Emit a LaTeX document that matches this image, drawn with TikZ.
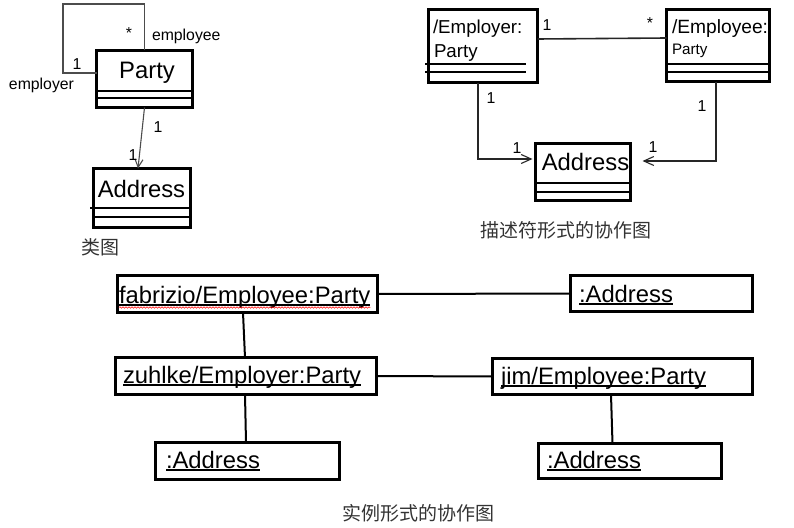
\documentclass[tikz,border=0pt]{standalone}
\usepackage{fontspec}
\setmainfont{Liberation Sans}
\newfontfamily\cjk{Noto Sans CJK SC}
\usetikzlibrary{arrows.meta,decorations.pathmorphing}
\begin{document}
\begin{tikzpicture}[x=1pt,y=-1pt,
  box/.style={draw, line width=3.4pt, inner sep=0pt, outer sep=0pt, anchor=north west},
  cline/.style={line width=1.3pt},
  txt/.style={inner sep=0pt, outer sep=0pt},
  big/.style={txt, font=\fontsize{23.8}{28}\selectfont},
  mid/.style={txt, font=\fontsize{18.7}{22}\selectfont},
  small/.style={txt, font=\fontsize{15.8}{18}\selectfont},
  captext/.style={txt, text=black!80, font=\cjk\fontsize{19}{22}\selectfont},
  thinline/.style={draw=black!70, line width=1.1pt},
  assoc/.style={draw=black!85, line width=1.6pt},
  inst/.style={draw=black, line width=2pt},
  openarrow/.style={-{Straight Barb[length=10pt,width=9pt,line width=1.1pt]}},
  ul/.style={line width=1.2pt}
]
\useasboundingbox (0,0) rectangle (794,527);

% ---------------- class diagram ----------------
\node[box, minimum width=96pt, minimum height=57pt] (party) at (96.5,50.5) {};
\draw[cline] (party.west |- 0,91) -- (party.east |- 0,91);
\draw[cline] (party.west |- 0,98) -- (party.east |- 0,98);
\node[big, anchor=base] (partyt) at (147,78) {Party};

\node[box, minimum width=97pt, minimum height=59pt] (addr1) at (93.5,168.5) {};
\draw[cline] (90,208) -- (addr1.east |- 0,208);
\draw[cline] (addr1.west |- 0,217) -- (addr1.east |- 0,217);
\node[big, anchor=base] (addr1t) at (141.5,197) {Address};

\coordinate (loopc) at (63,4);
\draw[thinline] (party.north) |- (loopc) |- ([yshift=6pt]party.west);
\node[small, anchor=center] (star1) at (129,33) {*};
\node[small, anchor=base west] (employee) at (152,41) {employee};
\node[small, anchor=base] (one1) at (77,70) {1};
\node[small, anchor=base west] (employer) at (9,89) {employer};

\draw[thinline, -{Straight Barb[length=8pt,width=8pt,line width=1.1pt]}] (party.south) -- ([xshift=-4pt]addr1.north);
\node[small, anchor=base] (one2) at (158,132) {1};
\node[small, anchor=base] (one3) at (133,160) {1};

\node[captext] (cap1) at (100,247) {类图};

% ---------------- descriptor collaboration ----------------
\node[box, minimum width=109pt, minimum height=73pt] (emplr) at (428.5,9.5) {};
\draw[cline] (425,64) -- (526,64);
\draw[cline] (425,72) -- (526,72);
\node[mid, anchor=base west] (emplrt1) at (433,34) {/Employer:};
\node[mid, anchor=base west] (emplrt2) at (434,57) {Party};

\node[box, minimum width=103pt, minimum height=72pt] (emple) at (666.5,9.5) {};
\draw[cline] (668,64) -- (emple.east |- 0,64);
\draw[cline] (668,72) -- (emple.east |- 0,72);
\node[txt, font=\fontsize{19.2}{22}\selectfont, anchor=base west] (emplet1) at (672,34) {/Employee:};
\node[txt, font=\fontsize{15.2}{18}\selectfont, anchor=base west] (emplet2) at (672,55) {Party};

\node[box, minimum width=95pt, minimum height=57pt] (addr2) at (535.5,143.5) {};
\draw[cline] (addr2.west |- 0,183) -- (addr2.east |- 0,183);
\draw[cline] (addr2.west |- 0,192) -- (addr2.east |- 0,192);
\node[big, anchor=base] (addr2t) at (585.5,170) {Address};

\draw[assoc] ([yshift=7pt]emplr.east) -- ([yshift=7.5pt]emple.west);
\node[small, anchor=base] (one4) at (547,31) {1};
\node[small, anchor=center] (star2) at (650,23) {*};

\draw[assoc, openarrow] ([xshift=-5pt]emplr.south) |- ([xshift=-3pt,yshift=13pt]addr2.west);
\node[small, anchor=base] (one5) at (491,103) {1};
\node[small, anchor=base] (one6) at (517,153) {1};

\draw[assoc, openarrow] ([xshift=-2pt]emple.south) |- ([xshift=12pt,yshift=11pt]addr2.east);
\node[small, anchor=base] (one7) at (702,111) {1};
\node[small, anchor=base] (one8) at (653,152) {1};

\node[captext] (cap2) at (566,230) {描述符形式的协作图};

% ---------------- instance collaboration ----------------
\node[box, minimum width=260pt, minimum height=37pt] (fab) at (117.5,275.5) {};
\node[big, anchor=base west] (fabt) at (119,303) {fabrizio/Employee:Party};
\draw[ul] ([yshift=-2pt]fabt.base west) -- ([yshift=-2pt]fabt.base east);
\draw[red, line width=0.5pt, decorate, decoration={snake, amplitude=0.8pt, segment length=3pt}]
  ([yshift=-4.5pt]fabt.base west) -- ([yshift=-4.5pt]fabt.base east);

\node[box, minimum width=182pt, minimum height=36pt] (addr3) at (570.5,275.5) {};
\node[big, anchor=base west] (addr3t) at (579,302) {:Address};
\draw[ul] ([yshift=-2pt]addr3t.base west) -- ([yshift=-2pt]addr3t.base east);

\node[box, minimum width=261pt, minimum height=37pt] (zuh) at (115.5,357.5) {};
\node[big, anchor=base west] (zuht) at (123,383) {zuhlke/Employer:Party};
\draw[ul] ([yshift=-2pt]zuht.base west) -- ([yshift=-2pt]zuht.base east);

\node[box, minimum width=260pt, minimum height=36pt] (jim) at (492.5,358.5) {};
\node[big, anchor=base west] (jimt) at (501,384) {jim/Employee:Party};
\draw[ul] ([yshift=-2pt]jimt.base west) -- ([yshift=-2pt]jimt.base east);

\node[box, minimum width=184pt, minimum height=37pt] (addr4) at (155.5,442.5) {};
\node[big, anchor=base west] (addr4t) at (166,468) {:Address};
\draw[ul] ([yshift=-2pt]addr4t.base west) -- ([yshift=-2pt]addr4t.base east);

\node[box, minimum width=183pt, minimum height=35pt] (addr5) at (538.5,443.5) {};
\node[big, anchor=base west] (addr5t) at (547,468) {:Address};
\draw[ul] ([yshift=-2pt]addr5t.base west) -- ([yshift=-2pt]addr5t.base east);

\draw[inst] ([xshift=-4.5pt]fab.south) -- ([xshift=-1pt]zuh.north);
\draw[inst] (fab.east) -- (addr3.west);
\draw[inst] (zuh.east) -- (jim.west);
\draw[inst] ([xshift=-1pt]zuh.south) -- ([xshift=-1.5pt]addr4.north);
\draw[inst] ([xshift=-11.5pt]jim.south) -- ([xshift=-17.5pt]addr5.north);

\node[captext] (cap3) at (418.5,513) {实例形式的协作图};
\end{tikzpicture}
\end{document}
